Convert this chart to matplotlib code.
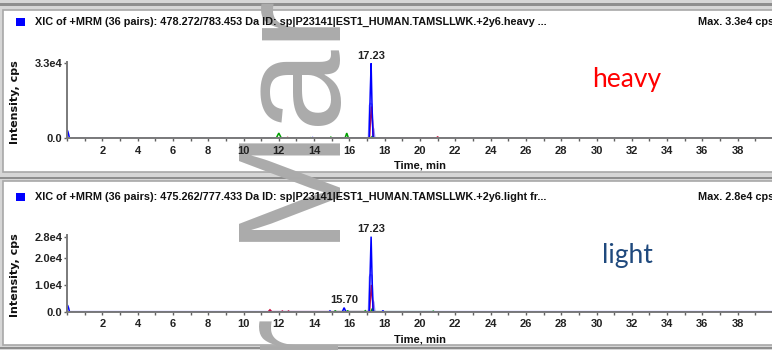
import matplotlib
matplotlib.use("Agg")
import matplotlib.pyplot as plt
from matplotlib.patches import Rectangle
from matplotlib.ticker import FixedLocator, FixedFormatter, MultipleLocator

# ---------------- data ----------------
titles = ["XIC of +MRM (36 pairs): 478.272/783.453 Da ID: sp|P23141|EST1_HUMAN.TAMSLLWK.+2y6.heavy ...",
          "XIC of +MRM (36 pairs): 475.262/777.433 Da ID: sp|P23141|EST1_HUMAN.TAMSLLWK.+2y6.light fr..."]
max_labels = ["Max. 3.3e4 cps", "Max. 2.8e4 cps"]
panel_names = ["heavy", "light"]

heavy_blue_t = [0.00, 0.04, 0.09, 0.14, 13.85, 13.92, 13.99, 17.12, 17.18, 17.23, 17.28, 17.34, 40.0]
heavy_blue_y = [3500, 3200, 1800, 0, 0, 350, 0, 0, 20000, 33000, 15000, 0, 0]
heavy_lblue_t = [17.08, 17.14, 17.19, 17.27, 17.33, 17.38, 17.44]
heavy_lblue_y = [0, 14500, 15500, 15000, 5000, 4000, 0]
heavy_red_t = [12.40, 12.50, 12.60, 17.14, 17.20, 17.25, 17.30, 17.36, 20.90, 21.00, 21.10]
heavy_red_y = [0, 400, 0, 0, 9000, 14000, 8000, 0, 0, 600, 0]
heavy_green_t = [11.85, 12.00, 12.15, 13.70, 13.80, 13.90, 14.88, 14.95, 15.02, 15.75, 15.85, 15.95, 17.22, 17.30, 17.38]
heavy_green_y = [0, 2300, 0, 0, 300, 0, 0, 500, 0, 0, 2300, 0, 0, 900, 0]

light_blue_t = [0.00, 0.04, 0.09, 0.14, 14.85, 14.90, 14.95, 15.60, 15.70, 15.80, 17.12, 17.18, 17.23, 17.28, 17.34, 17.85, 17.90, 17.95, 40.0]
light_blue_y = [2600, 2300, 1400, 0, 0, 300, 0, 0, 1500, 0, 0, 16000, 28000, 14000, 0, 0, 400, 0, 0]
light_lblue_t = [17.08, 17.14, 17.19, 17.27, 17.33, 17.38, 17.44]
light_lblue_y = [0, 13000, 14000, 13500, 4500, 3500, 0]
light_red_t = [11.40, 11.50, 11.60, 12.15, 12.20, 12.25, 12.50, 12.55, 12.60, 17.14, 17.20, 17.25, 17.30, 17.36]
light_red_y = [0, 700, 0, 0, 250, 0, 0, 250, 0, 0, 6000, 10000, 5000, 0]
light_green_t = [15.15, 15.20, 15.25, 15.85, 15.90, 15.95, 16.85, 16.90, 16.95, 17.22, 17.30, 17.38, 20.70, 20.75, 20.80]
light_green_y = [0, 400, 0, 0, 400, 0, 0, 350, 0, 0, 1200, 0, 0, 200, 0]

heavy_peak_labels = [(17.23, 33000, "17.23")]
light_peak_labels = [(17.23, 28000, "17.23"), (15.70, 1500, "15.70")]

heavy_yticks = [0, 33000]
heavy_yticklabels = ["0.0", "3.3e4"]
light_yticks = [0, 10000, 20000, 28000]
light_yticklabels = ["0.0", "1.0e4", "2.0e4", "2.8e4"]
xticks = list(range(2, 40, 2))
xticklabels = [str(v) for v in xticks]

# ---------------- layout ----------------
W, H = 772, 350
fig = plt.figure(figsize=(W / 100, H / 100), dpi=100)
fig.patch.set_facecolor("#D6D6D6")

NARROW = ["Liberation Sans", "DejaVu Sans"]

def fx(x):
    return x / W

def fy(y):
    return 1 - y / H

def frect(x0, y0, x1, y1, **kw):
    r = Rectangle((fx(x0), fy(y1)), fx(x1) - fx(x0), fy(y0) - fy(y1),
                  transform=fig.transFigure, **kw)
    fig.add_artist(r)
    return r

# window frame
frect(0, 3, W, 5.5, color="#8E8E8E", lw=0, zorder=-3)
frect(3.5, 10, W + 5, 172, facecolor="white", edgecolor="#A8A8A8", lw=1.2, zorder=-3)
frect(0, 177, W, 179, color="#8E8E8E", lw=0, zorder=-3)
frect(3.5, 181, W + 5, 345, facecolor="white", edgecolor="#A8A8A8", lw=1.2, zorder=-3)
frect(0, 346.5, W, 348.5, color="#8E8E8E", lw=0, zorder=-3)

# watermark
wm = dict(rotation=90, rotation_mode="anchor", ha="left", va="baseline",
          fontsize=106, color="#ABABAB", family=["Liberation Sans", "DejaVu Sans"], zorder=-1)
fig.text(fx(329), fy(241), "Mar", **wm)
fig.text(fx(329), fy(357), "r", **wm)

panels = [
    dict(top=62, base=138.3, ymax=33600, title_y=22, traces=[
        (heavy_lblue_t, heavy_lblue_y, "#8C8CFF"),
        (heavy_red_t, heavy_red_y, "#D0103A"),
        (heavy_green_t, heavy_green_y, "#00A000"),
        (heavy_blue_t, heavy_blue_y, "#0000FF")],
        yt=heavy_yticks, ytl=heavy_yticklabels, labels=heavy_peak_labels,
        name_y=79.5, name_color="#FF0000", ylab_y=102, xlab_y=166),
    dict(top=235, base=311.7, ymax=28600, title_y=197, traces=[
        (light_lblue_t, light_lblue_y, "#8C8CFF"),
        (light_red_t, light_red_y, "#D0103A"),
        (light_green_t, light_green_y, "#00A000"),
        (light_blue_t, light_blue_y, "#0000FF")],
        yt=light_yticks, ytl=light_yticklabels, labels=light_peak_labels,
        name_y=256, name_color="#1F497D", ylab_y=275, xlab_y=340),
]

for i, p in enumerate(panels):
    ax = fig.add_axes([fx(67), fy(p["base"]), 706 / W, (p["base"] - p["top"]) / H])
    ax.patch.set_alpha(0)
    for t, y, c in p["traces"]:
        ax.plot(t, y, color=c, lw=1.1, zorder=2, solid_joinstyle="miter")
    ax.set_xlim(0, 40)
    ax.set_ylim(0, p["ymax"])
    for s in ("top", "right"):
        ax.spines[s].set_visible(False)
    for s in ("left", "bottom"):
        ax.spines[s].set_color("#7A7A7A")
        ax.spines[s].set_linewidth(1.4)
        ax.spines[s].set_zorder(3)
    ax.xaxis.set_major_locator(FixedLocator(xticks))
    ax.xaxis.set_major_formatter(FixedFormatter(xticklabels))
    ax.xaxis.set_minor_locator(MultipleLocator(1))
    ax.yaxis.set_major_locator(FixedLocator(p["yt"]))
    ax.yaxis.set_major_formatter(FixedFormatter(p["ytl"]))
    ax.tick_params(axis="x", which="both", direction="out", length=2.5, width=1, color="#606060", pad=3)
    ax.tick_params(axis="y", which="both", direction="out", length=2.5, width=1, color="#606060", pad=1)
    for lab in ax.get_xticklabels() + ax.get_yticklabels():
        lab.set_family(NARROW)
        lab.set_fontweight("bold")
        lab.set_fontsize(8)
        lab.set_color("#222222")
    for (xv, yv, txt) in p["labels"]:
        ax.annotate(txt, (xv, yv), xytext=(0, 2), textcoords="offset points",
                    ha="center", va="bottom", fontsize=8, fontweight="bold",
                    family=NARROW, color="#222222", annotation_clip=False)

    # titles and decorations
    frect(16, p["title_y"] - 4.5, 25, p["title_y"] + 3.5, color="#0000FF", lw=0, zorder=1)
    fig.text(fx(35), fy(p["title_y"]), titles[i], va="center", ha="left", fontsize=7.85,
             fontweight="bold", family=NARROW, color="#111111")
    fig.text(fx(698), fy(p["title_y"]), max_labels[i], va="center", ha="left", fontsize=7.85,
             fontweight="bold", family=NARROW, color="#111111")
    fig.text(fx(420), fy(p["xlab_y"]), "Time, min", va="center", ha="center", fontsize=8,
             fontweight="bold", family=NARROW, color="#111111")
    fig.text(fx(15), fy(p["ylab_y"]), "Intensity, cps", rotation=90, va="center", ha="center",
             fontsize=8, fontweight="bold", family=["DejaVu Sans"], color="#111111")
    fig.text(fx(627), fy(p["name_y"]), panel_names[i], va="center", ha="center", fontsize=19,
             family=["Lato", "DejaVu Sans"], color=p["name_color"])

fig.savefig("out.png", dpi=100, facecolor=fig.get_facecolor())
